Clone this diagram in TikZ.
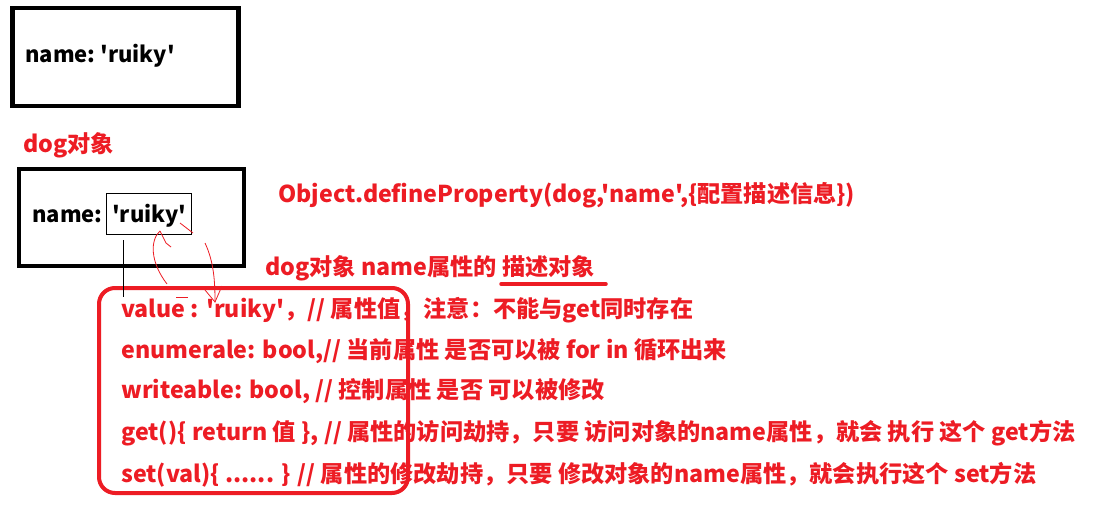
\documentclass[tikz,border=0pt]{standalone}
\usepackage{fontspec}
\usepackage{xcolor}
\usetikzlibrary{positioning}
\newfontfamily\yahei{Noto Sans CJK SC}
\definecolor{paintred}{HTML}{ED1C24}
\tikzset{
  txt/.style={
    font=\yahei\bfseries\fontsize{22}{26}\selectfont,
    anchor=base west,
    inner sep=0pt
  },
  redtxt/.style={
    txt,
    font=\yahei\bfseries\fontsize{23.2}{27}\selectfont,
    text=paintred
  },
  objbox/.style={
    draw=black,
    line width=4.5pt,
    minimum width=225pt,
    minimum height=97pt,
    inner sep=0pt
  },
  valbox/.style={
    draw=black,
    line width=0.8pt,
    inner sep=0pt
  },
  descbox/.style={
    draw=paintred,
    line width=4pt,
    rounded corners=16pt,
    inner sep=0pt
  },
  scribble/.style={
    draw=paintred,
    line width=0.8pt
  },
  underline/.style={
    draw=paintred,
    line width=3.5pt,
    line cap=round
  }
}
\begin{document}
\begin{tikzpicture}[x=1pt,y=-1pt]
\useasboundingbox[fill=white] (0,0) rectangle (1104,511);

% plain object on top
\node[objbox, minimum width=226pt, minimum height=98pt] (plain) at (125.5,57) {};
\node[txt] (plainname) at (25,63) {name:\ 'ruiky'};

% dog object
\node[redtxt] (dogtitle) at (23,153) {dog对象};
\node[objbox] (dog) at (131.5,217.5) {};
\node[txt] (dogname) at (32,222) {name:};
\node[valbox, minimum width=85pt, minimum height=41pt] (dogval) at (148.5,213.5) {};
\node[txt] (dogruiky) at (112,222) {'ruiky'};

% call and caption
\node[redtxt] (call) at (278,202) {Object.defineProperty(dog,'name',\{配置描述信息\})};
\node[redtxt] (caption) at (265,275) {dog对象 name属性的 描述对象};
\coordinate (ulstart) at (501,284);
\coordinate (ulend) at (606,284);
\draw[underline] (ulstart) -- (ulend);

% descriptor lines
\node[redtxt] (lvalue) at (121,317) {value : 'ruiky'，// 属性值，注意：不能与get同时存在};
\node[redtxt] (lenum) at (121,358) {enumerale: bool,// 当前属性 是否可以被 for in 循环出来};
\node[redtxt] (lwrite) at (121,398) {writeable: bool, // 控制属性 是否 可以被修改};
\node[redtxt] (lget) at (121,440) {get()\{ return 值 \}, // 属性的访问劫持，只要 访问对象的name属性，就会 执行 这个 get方法};
\node[redtxt] (lset) at (121,482) {set(val)\{ ...... \} // 属性的修改劫持，只要 修改对象的name属性，就会执行这个 set方法};

\node[descbox, minimum width=309pt, minimum height=205pt] (desc) at (253.5,390.5) {};

% pointer from the value down to the descriptor
\coordinate (tick) at (123,240);
\draw[line width=0.8pt] (tick) -- (tick |- lvalue.north);

% hand drawn arrows between the two 'ruiky'
\coordinate (uptip) at (160,231);
\coordinate (downtip) at (215,302);
\draw[scribble] (uptip) .. controls (150,240) and (150,262) .. (167,284);
\draw[scribble] (uptip) -- (166,243) -- (171,247);
\draw[scribble] (180,223) -- (193,233);
\draw[scribble] (205,243) .. controls (214,262) and (215,282) .. (downtip);
\draw[scribble] (205,290) -- (downtip) -- (222,286);
\draw[scribble] (176,297) -- (188,297);

\end{tikzpicture}
\end{document}
